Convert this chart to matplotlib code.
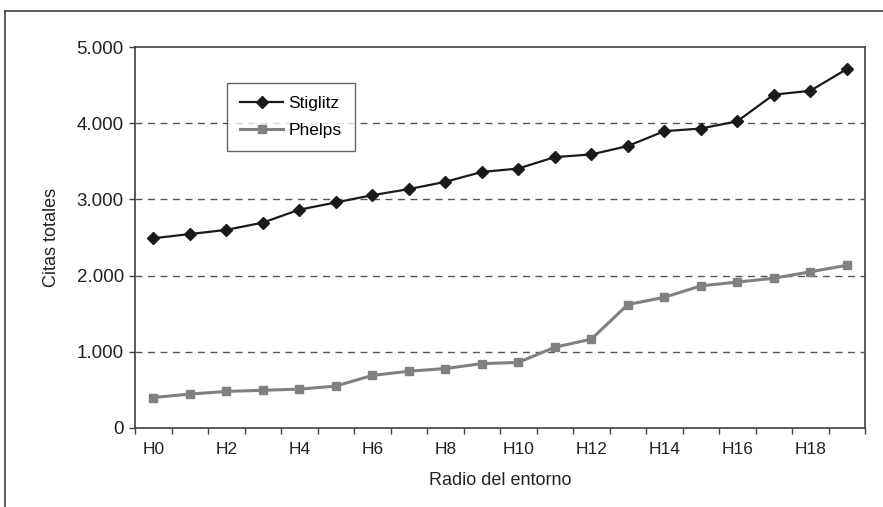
import matplotlib
matplotlib.use("Agg")
import matplotlib.pyplot as plt
from matplotlib.lines import Line2D
from matplotlib.ticker import FuncFormatter, FixedLocator

plt.rcParams['font.family'] = ['Liberation Sans', 'DejaVu Sans']

# Data
categories = ["H%d" % i for i in range(20)]
stiglitz = [2490, 2545, 2600, 2695, 2865, 2960, 3055, 3135, 3230, 3360,
            3405, 3555, 3590, 3700, 3895, 3930, 4025, 4375, 4425, 4710]
phelps = [400, 445, 480, 495, 510, 550, 690, 745, 780, 845,
          860, 1060, 1165, 1620, 1715, 1865, 1915, 1965, 2050, 2135]
y_ticks = [0, 1000, 2000, 3000, 4000, 5000]

fig = plt.figure(figsize=(8.83, 5.07), dpi=100)
ax = fig.add_axes([135 / 883, 1 - 428 / 507, 730 / 883, 381 / 507])

x = list(range(len(categories)))
ax.plot(x, stiglitz, color='#1a1a1a', lw=1.6, marker='D', ms=6.5,
        label='Stiglitz', zorder=3)
ax.plot(x, phelps, color='#808080', lw=2.2, marker='s', ms=6,
        label='Phelps', zorder=3)

ax.set_xlim(-0.5, len(categories) - 0.5)
ax.set_ylim(0, 5000)

# category labels every other one, tick marks between categories
ax.set_xticks(x[::2])
ax.set_xticklabels(categories[::2])
ax.xaxis.set_minor_locator(FixedLocator([i - 0.5 for i in range(len(categories) + 1)]))
ax.tick_params(axis='x', which='major', length=0, pad=10, labelsize=12.5, labelcolor='#222222')
ax.tick_params(axis='x', which='minor', length=4, width=1, color='#404040')

ax.set_yticks(y_ticks)
ax.yaxis.set_major_formatter(FuncFormatter(lambda v, p: f"{int(v):,}".replace(",", ".")))
ax.tick_params(axis='y', length=4, width=1, color='#404040', labelsize=13.5,
               pad=4, labelcolor='#222222')

for v in y_ticks[1:-1]:
    ax.axhline(v, color='#555555', lw=1, ls=(0, (5, 4)), zorder=1)

for s in ax.spines.values():
    s.set_color('#404040')
    s.set_linewidth(1.2)

ax.set_ylabel('Citas totales', fontsize=13, labelpad=12, color='#222222')
ax.set_xlabel('Radio del entorno', fontsize=13, labelpad=11, color='#222222')

leg = ax.legend(loc='upper left', bbox_to_anchor=((227 - 135) / 730, (428 - 83) / 381),
                borderaxespad=0, frameon=True, fancybox=False, fontsize=12.5,
                handlelength=2.5, handletextpad=0.3, borderpad=0.75,
                labelspacing=0.65)
leg.get_frame().set_edgecolor('#404040')
leg.get_frame().set_linewidth(1)

# outer chart border (partly cut off at the image edges)
fig.add_artist(Line2D([5 / 883, 1], [1 - 11 / 507] * 2, color='#404040', lw=1.2,
                      transform=fig.transFigure))
fig.add_artist(Line2D([5 / 883] * 2, [0, 1 - 11 / 507], color='#404040', lw=1.2,
                      transform=fig.transFigure))

fig.savefig('out.png', dpi=100)
